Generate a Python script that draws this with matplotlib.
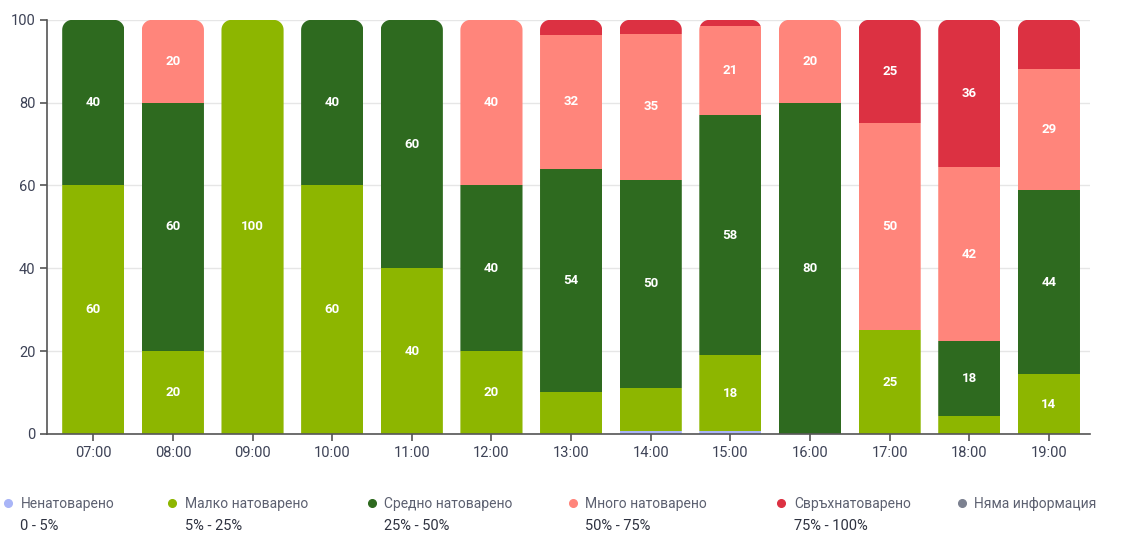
import numpy as np
import matplotlib
matplotlib.use("Agg")
import matplotlib.pyplot as plt
from matplotlib.patches import Rectangle, PathPatch
from matplotlib.path import Path
from matplotlib.lines import Line2D

plt.rcParams['font.family'] = ['Roboto', 'DejaVu Sans']

hours = ['07:00', '08:00', '09:00', '10:00', '11:00', '12:00', '13:00',
         '14:00', '15:00', '16:00', '17:00', '18:00', '19:00']

# stacked shares (%), bottom to top
empty  = [0, 0, 0, 0, 0, 0, 0, 0.6, 0.6, 0, 0, 0, 0]
low    = [60, 20, 100, 60, 40, 20, 10.2, 10.6, 18.4, 0, 25, 4.4, 14.4]
medium = [40, 60, 0, 40, 60, 40, 53.9, 50.2, 58.0, 80, 0, 18.0, 44.4]
high   = [0, 20, 0, 0, 0, 40, 32.3, 35.3, 21.4, 20, 50, 42.0, 29.4]
over   = [0, 0, 0, 0, 0, 0, 3.6, 3.3, 1.6, 0, 25, 35.6, 11.8]
noinfo = [0] * 13

series = [empty, low, medium, high, over, noinfo]
colors = ['#a9b5f7', '#8db600', '#2e6a1f', '#ff857b', '#dc3142', '#7c8190']
names = ['Ненатоварено', 'Малко натоварено', 'Средно натоварено',
         'Много натоварено', 'Свръхнатоварено', 'Няма информация']
ranges = ['0 - 5%', '5% - 25%', '25% - 50%', '50% - 75%', '75% - 100%', '']

fig = plt.figure(figsize=(11.34, 5.37), dpi=100)
ax = fig.add_axes([0.0415, 0.192, 0.92, 0.771])
ax.set_xlim(-0.58, 12.52)
ax.set_ylim(0, 100)

w = 0.78
x = np.arange(len(hours))
tops = np.array(series).sum(axis=0)
rx, ry = 0.125, 2.4  # corner radius in data units


def rounded_top(x0, x1, y0, y1):
    # bar outline with rounded top corners
    t = np.linspace(0, np.pi / 2, 12)
    pts = [(x0, y0), (x1, y0), (x1, y1 - ry)]
    pts += [(x1 - rx + rx * np.cos(a), y1 - ry + ry * np.sin(a)) for a in t]
    pts += [(x0 + rx - rx * np.sin(a), y1 - ry + ry * np.cos(a)) for a in t]
    pts += [(x0, y0)]
    codes = [Path.MOVETO] + [Path.LINETO] * (len(pts) - 2) + [Path.CLOSEPOLY]
    return Path(pts, codes)


clips = []
for i in range(len(hours)):
    pp = PathPatch(rounded_top(x[i] - w / 2, x[i] + w / 2, 0, tops[i]),
                   fc='none', ec='none', transform=ax.transData)
    ax.add_patch(pp)
    clips.append(pp)

bottom = np.zeros(len(hours))
for k, vals in enumerate(series):
    vals = np.array(vals, dtype=float)
    for i in range(len(hours)):
        v = vals[i]
        if v <= 0:
            continue
        b = bottom[i]
        rect = Rectangle((x[i] - w / 2, b), w, v, fc=colors[k], ec='none', zorder=2)
        ax.add_patch(rect)
        rect.set_clip_path(clips[i])
        if v >= 13.5:
            ax.text(x[i], b + v / 2, str(int(round(v))), color='white', ha='center', va='center',
                    fontsize=9.5, fontweight='bold', zorder=3)
    bottom += vals

ax.set_xticks(x)
ax.set_xticklabels(hours)
ax.set_yticks([0, 20, 40, 60, 80, 100])
ax.grid(axis='y', color='#e6e6e6', lw=1, zorder=0)
ax.set_axisbelow(True)
for s in ['top', 'right']:
    ax.spines[s].set_visible(False)
for s in ['left', 'bottom']:
    ax.spines[s].set_color('#555555')
    ax.spines[s].set_linewidth(1.2)
ax.tick_params(colors='#555555', labelcolor='#3d4256', labelsize=10.5, length=5, width=1.2)

# legend
lx = [0.007, 0.152, 0.328, 0.505, 0.689, 0.848]
for k in range(6):
    fig.add_artist(Line2D([lx[k]], [0.063], marker='o', ms=5.5, color=colors[k], ls='none',
                          transform=fig.transFigure))
    fig.text(lx[k] + 0.011, 0.061, names[k], fontsize=10, color='#5c6070', va='center')
    if ranges[k]:
        fig.text(lx[k] + 0.011, 0.02, ranges[k], fontsize=10.5, color='#2e3240', va='center')

fig.savefig('out.png', dpi=100)
